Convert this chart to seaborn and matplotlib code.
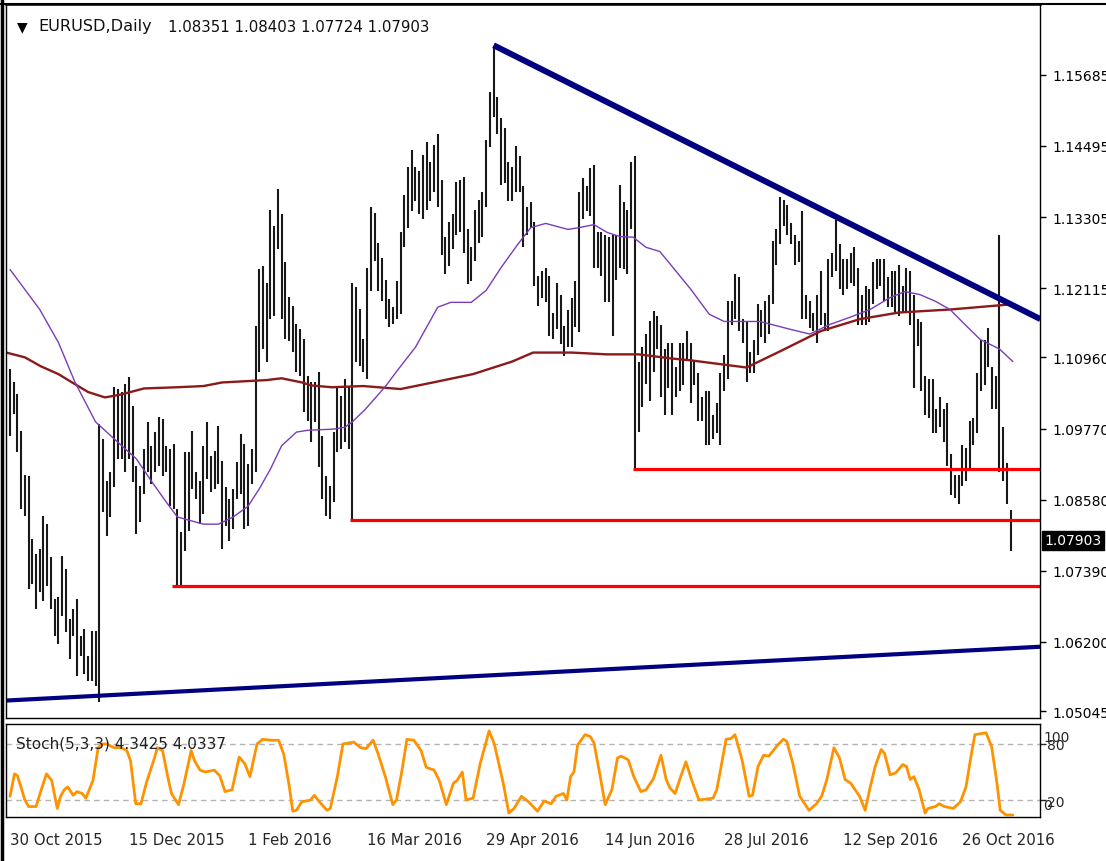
import numpy as np
import pandas as pd
import matplotlib
matplotlib.use("Agg")
import matplotlib.pyplot as plt
import matplotlib.transforms as mtrans
from matplotlib.lines import Line2D
import seaborn as sns

sns.set_style("white")
plt.rcParams["font.family"] = ["DejaVu Sans"]

# ---------------- data ----------------
symbol = "EURUSD,Daily"
last_ohlc = ["1.08351", "1.08403", "1.07724", "1.07903"]
last_close = 1.07903

highs = [
    1.1076, 1.1054, 1.1034, 1.0973, 1.0899, 1.0897, 1.0792, 1.0767, 1.0776, 1.0831,
    1.0817, 1.0762, 1.0692, 1.0695, 1.0764, 1.0742, 1.0659, 1.0675, 1.0692, 1.0630,
    1.0642, 1.0597, 1.0639, 1.0639, 1.0984, 1.0959, 1.0889, 1.0904, 1.1046, 1.1043,
    1.1038, 1.1051, 1.1063, 1.1014, 1.0914, 1.0880, 1.0943, 1.0988, 1.0948, 1.0971,
    1.0996, 1.0993, 1.0948, 1.0943, 1.0951, 1.0842, 1.0804, 1.0938, 1.0938, 1.0973,
    1.0904, 1.0889, 1.0948, 1.0988, 1.0931, 1.0939, 1.0981, 1.0923, 1.0879, 1.0859,
    1.0876, 1.0921, 1.0968, 1.0951, 1.0918, 1.0943, 1.1148, 1.1243, 1.1248, 1.1221,
    1.1343, 1.1315, 1.1378, 1.1335, 1.1255, 1.1197, 1.1182, 1.1152, 1.1143, 1.1127,
    1.1064, 1.1054, 1.1054, 1.1071, 1.0964, 1.0897, 1.0881, 1.0971, 1.1046, 1.1031,
    1.1059, 1.1048, 1.1221, 1.1213, 1.1177, 1.1127, 1.1246, 1.1347, 1.1338, 1.1288,
    1.1263, 1.1226, 1.1193, 1.1180, 1.1223, 1.1306, 1.1368, 1.1415, 1.1443, 1.1415,
    1.1407, 1.1435, 1.1457, 1.1423, 1.1452, 1.1469, 1.1393, 1.1298, 1.1322, 1.1335,
    1.1390, 1.1393, 1.1398, 1.1310, 1.1281, 1.1343, 1.1360, 1.1372, 1.1460, 1.1540,
    1.1616, 1.1532, 1.1497, 1.1480, 1.1422, 1.1415, 1.1449, 1.1432, 1.1382, 1.1347,
    1.1355, 1.1322, 1.1232, 1.1240, 1.1246, 1.1232, 1.1171, 1.1221, 1.1201, 1.1148,
    1.1176, 1.1196, 1.1223, 1.1373, 1.1396, 1.1382, 1.1413, 1.1418, 1.1306, 1.1306,
    1.1301, 1.1298, 1.1301, 1.1301, 1.1385, 1.1355, 1.1343, 1.1423, 1.1432, 1.1088,
    1.1113, 1.1135, 1.1156, 1.1173, 1.1165, 1.1150, 1.1110, 1.1120, 1.1120, 1.1080,
    1.1120, 1.1120, 1.1140, 1.1120, 1.1090, 1.1070, 1.1030, 1.1040, 1.1040, 1.1000,
    1.1020, 1.1070, 1.1100, 1.1190, 1.1190, 1.1235, 1.1230, 1.1160, 1.1155, 1.1105,
    1.1125, 1.1185, 1.1175, 1.1190, 1.1200, 1.1290, 1.1310, 1.1365, 1.1360, 1.1350,
    1.1320, 1.1300, 1.1290, 1.1340, 1.1200, 1.1190, 1.1170, 1.1200, 1.1240, 1.1170,
    1.1260, 1.1270, 1.1325, 1.1285, 1.1260, 1.1260, 1.1270, 1.1280, 1.1245, 1.1200,
    1.1215, 1.1210, 1.1255, 1.1260, 1.1260, 1.1260, 1.1230, 1.1240, 1.1240, 1.1250,
    1.1215, 1.1245, 1.1240, 1.1200, 1.1160, 1.1155, 1.1065, 1.1060, 1.1060, 1.1010,
    1.1030, 1.1010, 1.1020, 1.0935, 1.0900, 1.0900, 1.0950, 1.0945, 1.0990, 1.0995,
    1.1070, 1.1125, 1.1125, 1.1145, 1.1080, 1.1065, 1.1300, 1.0980, 1.0920, 1.08403,
]
lows = [
    1.0964, 1.1001, 1.0937, 1.0842, 1.0831, 1.0709, 1.0717, 1.0675, 1.0704, 1.0689,
    1.0714, 1.0675, 1.0630, 1.0617, 1.0663, 1.0637, 1.0592, 1.0630, 1.0563, 1.0597,
    1.0567, 1.0555, 1.0555, 1.0547, 1.0520, 1.0837, 1.0797, 1.0829, 1.0879, 1.0926,
    1.0926, 1.0904, 1.0926, 1.0887, 1.0801, 1.0820, 1.0868, 1.0904, 1.0884, 1.0904,
    1.0914, 1.0897, 1.0904, 1.0847, 1.0842, 1.0714, 1.0714, 1.0772, 1.0806, 1.0876,
    1.0859, 1.0817, 1.0834, 1.0892, 1.0871, 1.0876, 1.0884, 1.0776, 1.0814, 1.0789,
    1.0809, 1.0859, 1.0868, 1.0809, 1.0814, 1.0884, 1.0905, 1.1071, 1.1110, 1.1088,
    1.1160, 1.1165, 1.1277, 1.1160, 1.1127, 1.1124, 1.1105, 1.1071, 1.1064, 1.1004,
    1.0989, 1.0954, 1.0988, 1.0912, 1.0859, 1.0831, 1.0826, 1.0854, 1.0938, 1.0943,
    1.0954, 1.0943, 1.0822, 1.1088, 1.1081, 1.1071, 1.1059, 1.1207, 1.1257, 1.1207,
    1.1190, 1.1160, 1.1146, 1.1151, 1.1160, 1.1168, 1.1281, 1.1313, 1.1340, 1.1357,
    1.1335, 1.1327, 1.1343, 1.1357, 1.1373, 1.1347, 1.1268, 1.1235, 1.1248, 1.1277,
    1.1301, 1.1306, 1.1271, 1.1218, 1.1223, 1.1257, 1.1288, 1.1298, 1.1347, 1.1447,
    1.1498, 1.1469, 1.1385, 1.1388, 1.1357, 1.1357, 1.1373, 1.1372, 1.1281, 1.1301,
    1.1313, 1.1215, 1.1182, 1.1196, 1.1188, 1.1131, 1.1126, 1.1143, 1.1118, 1.1098,
    1.1113, 1.1113, 1.1146, 1.1138, 1.1327, 1.1340, 1.1332, 1.1246, 1.1246, 1.1232,
    1.1188, 1.1188, 1.1131, 1.1226, 1.1246, 1.1243, 1.1235, 1.1310, 1.0906, 1.0971,
    1.1013, 1.1051, 1.1023, 1.1071, 1.1110, 1.1030, 1.1000, 1.1045, 1.1000, 1.1030,
    1.1040, 1.1050, 1.1090, 1.1020, 1.1050, 1.0990, 1.0990, 1.0950, 1.0950, 1.0960,
    1.0970, 1.0950, 1.1040, 1.1060, 1.1150, 1.1160, 1.1140, 1.1120, 1.1055, 1.1070,
    1.1070, 1.1100, 1.1130, 1.1120, 1.1135, 1.1185, 1.1250, 1.1285, 1.1315, 1.1300,
    1.1285, 1.1250, 1.1255, 1.1160, 1.1160, 1.1145, 1.1140, 1.1120, 1.1150, 1.1140,
    1.1140, 1.1230, 1.1240, 1.1210, 1.1200, 1.1210, 1.1220, 1.1215, 1.1150, 1.1150,
    1.1150, 1.1155, 1.1185, 1.1210, 1.1215, 1.1190, 1.1180, 1.1180, 1.1170, 1.1165,
    1.1170, 1.1170, 1.1150, 1.1045, 1.1115, 1.1040, 1.1000, 1.0995, 1.0970, 1.0970,
    1.0980, 1.0955, 1.0915, 1.0865, 1.0860, 1.0850, 1.0880, 1.0890, 1.0910, 1.0950,
    1.0970, 1.1040, 1.1050, 1.1080, 1.1010, 1.1010, 1.0905, 1.0890, 1.0850, 1.07724,
]

# fast moving average (purple), read as (bar, price)
ma_fast_bar = [0, 8, 13, 17.5, 23, 29, 34, 38, 42, 45, 52, 56, 60, 64, 67, 70, 73, 77,
               80, 87, 90, 92, 95.5, 101, 104, 109, 115, 118.5, 124, 128, 132, 136.5,
               140, 144, 150, 153, 157, 160.5, 164, 167.5, 171, 174.7, 178, 183, 188,
               192, 201.6, 209.7, 215, 220.4, 225.8, 231.2, 236.6, 240.6, 244.6,
               248.7, 252.7, 256.7, 260.8, 266, 269.6]
ma_fast_val = [1.1243, 1.1176, 1.1121, 1.1054, 1.0988, 1.0954, 1.0926, 1.0889, 1.0854,
               1.0829, 1.0817, 1.0817, 1.0829, 1.0847, 1.0876, 1.0909, 1.0948, 1.0971,
               1.0974, 1.0976, 1.0979, 1.0988, 1.1009, 1.1048, 1.1073, 1.1113, 1.1180,
               1.1188, 1.1188, 1.1208, 1.1246, 1.1285, 1.1313, 1.1320, 1.1310, 1.1313,
               1.1318, 1.1305, 1.1298, 1.1297, 1.1280, 1.1273, 1.1248, 1.1210, 1.1168,
               1.1156, 1.1156, 1.1143, 1.1135, 1.1151, 1.1163, 1.1176, 1.1196, 1.1206,
               1.1201, 1.1190, 1.1176, 1.1151, 1.1126, 1.1110, 1.1089]

# slow moving average (brown)
ma_slow_bar = [-1, 4, 8.3, 13, 17.5, 21, 25.5, 30, 33, 36, 45, 52, 57, 63, 69, 73, 78.5,
               81, 86.5, 95, 105, 113.7, 124.5, 130, 135, 140.6, 151, 160.5, 169, 178,
               183, 198, 207, 218, 228.5, 239, 252.7, 266, 269.6]
ma_slow_val = [1.1104, 1.1096, 1.1081, 1.1068, 1.1051, 1.1038, 1.1029, 1.1034, 1.1039,
               1.1044, 1.1046, 1.1048, 1.1054, 1.1056, 1.1058, 1.1061, 1.1054, 1.1049,
               1.1046, 1.1048, 1.1043, 1.1054, 1.1068, 1.1079, 1.1089, 1.1104, 1.1104,
               1.1101, 1.1101, 1.1094, 1.1091, 1.1079, 1.1106, 1.1140, 1.1160, 1.1171,
               1.1176, 1.1183, 1.1185]

# stochastic %K (orange), read as (bar, value)
stoch_bar = [0, 1.2, 2, 4, 5, 7, 8.4, 9.8, 11.2, 12.7, 13.6, 14.6, 15.5, 17, 18, 19.4,
             20.4, 22.3, 23.7, 24.7, 26, 28, 29.9, 31.4, 32.4, 33.8, 35.2, 36.7, 38.6,
             39.6, 41, 42.4, 43.4, 45.3, 46.8, 48.7, 49.6, 51.1, 52.5, 54.9, 56.4, 57.8,
             59.7, 61.6, 63.1, 64.5, 66.4, 67.9, 70.3, 72.2, 73.6, 75.1, 76, 77, 78.4,
             80.8, 81.8, 83.2, 85.2, 86.1, 88, 89.5, 92.4, 94.3, 95.7, 97.6, 99, 100.9,
             102.9, 103.9, 105.3, 106.7, 108.6, 110.5, 111.9, 114, 115.4, 117.3, 119.2,
             120.2, 121.6, 122.6, 124.5, 126.4, 128.8, 130.2, 132.6, 134.1, 135.5,
             137.5, 139.4, 141.8, 143.6, 145.5, 146.8, 148.8, 149.7, 150.7, 151.6,
             152.6, 154.6, 156, 157, 158.5, 160, 161.8, 163.3, 164.3, 166.2, 167.7,
             169.6, 171, 173, 175, 176.4, 177.4, 178.8, 180.3, 181.7, 183.2, 185.2,
             189, 190, 190.9, 192.5, 193.9, 194.9, 196.8, 198.7, 199.6, 201.1, 202.6,
             204, 206.4, 207.9, 208.8, 210.4, 212.3, 214.8, 216.8, 218.2, 219.6, 221.5,
             223, 224.5, 226, 228.4, 229.9, 231.2, 232.6, 234.2, 235.1, 236.6, 238.1,
             240, 241, 242, 243, 244.4, 246, 246.8, 248.8, 249.8, 251.2, 253.6, 255.5,
             257, 258.4, 259.4, 262.4, 263.9, 265.2, 266.2, 267.7, 269.6]
stoch_val = [24, 48, 46, 20, 13, 13, 31, 48, 41, 11, 24, 31, 34, 25, 29, 27, 22, 41, 76,
             80, 80, 76, 76, 73, 62, 16, 16, 39, 62, 76, 73, 45, 27, 15, 38, 73, 62, 52,
             50, 52, 46, 29, 31, 66, 59, 45, 80, 85, 84, 84, 69, 34, 8, 9, 18, 20, 25, 18,
             9, 11, 45, 80, 82, 76, 75, 84, 69, 45, 15, 20, 50, 85, 84, 73, 55, 52, 41,
             15, 38, 41, 50, 20, 22, 59, 94, 80, 38, 6, 11, 24, 18, 8, 19, 16, 24, 27, 20,
             45, 50, 79, 90, 88, 81, 49, 15, 31, 65, 67, 63, 45, 29, 31, 43, 68, 42, 33,
             27, 45, 61, 42, 20, 22, 31, 50, 85, 86, 90, 63, 24, 25, 56, 68, 67, 79, 85,
             83, 60, 24, 9, 16, 24, 42, 76, 65, 42, 38, 24, 9, 33, 56, 74, 70, 47, 49, 58,
             56, 42, 45, 31, 6, 11, 13, 16, 13, 11, 18, 34, 68, 90, 92, 77, 42, 9, 4, 4]

price_ticks = [1.15685, 1.14495, 1.13305, 1.12115, 1.10960, 1.09770, 1.08580,
               1.07390, 1.06200, 1.05045]
date_tick_bars = [0, 32, 64, 96, 128, 160, 192, 224, 256]
date_labels = ["30 Oct 2015", "15 Dec 2015", "1 Feb 2016", "16 Mar 2016",
               "29 Apr 2016", "14 Jun 2016", "28 Jul 2016", "12 Sep 2016",
               "26 Oct 2016"]

# drawn objects (trend lines and support levels)
upper_trend_bar = [130, 277]
upper_trend_val = [1.1618, 1.1160]
lower_trend_bar = [-1, 277]
lower_trend_val = [1.0522, 1.0612]
support_start_bar = [167.5, 91.5, 43.5]
support_level = [1.0909, 1.0824, 1.0714]

stoch_levels = [80, 20]
stoch_title = "Stoch(5,3,3) 4.3425 4.0337"

# ---------------- figure ----------------
W, H = 1106, 862
fig = plt.figure(figsize=(W / 100, H / 100), dpi=100)


def box(l, t, r, b):
    return [l / W, 1 - b / H, (r - l) / W, (b - t) / H]


ax = fig.add_axes(box(6, 5, 1040, 719))
ax2 = fig.add_axes(box(6, 725, 1040, 818))

bars = pd.DataFrame({"bar": np.arange(len(highs)), "high": highs, "low": lows})

ax.vlines(bars["bar"], bars["low"], bars["high"], color="#181818", linewidth=1.5)

sns.lineplot(x=ma_slow_bar, y=ma_slow_val, ax=ax, color="#8B1A1A", linewidth=1.7,
             estimator=None, sort=False)
sns.lineplot(x=ma_fast_bar, y=ma_fast_val, ax=ax, color="#7A3CB8", linewidth=1.0,
             estimator=None, sort=False)

ax.plot(upper_trend_bar, upper_trend_val, color="#000080", linewidth=4.3,
        solid_capstyle="butt")
ax.plot(lower_trend_bar, lower_trend_val, color="#000080", linewidth=3.0,
        solid_capstyle="butt")
ax.hlines(support_level, support_start_bar, 277, color="#FF0000", linewidth=2.3)

x_lo, x_hi = -1.08, 276.9
ax.set_xlim(x_lo, x_hi)
ax.set_ylim(1.04928, 1.16870)
ax.set_xticks([])
ax.yaxis.tick_right()
ax.set_yticks(price_ticks)
ax.set_yticklabels([f"{v:.5f}" for v in price_ticks])
ax.tick_params(axis="y", direction="out", length=4, width=1, pad=5, labelsize=10,
               colors="black")
for s in ax.spines.values():
    s.set_color("black")
    s.set_linewidth(1.0)
ax.spines["top"].set_linewidth(1.8)

# current price marker
trans = mtrans.blended_transform_factory(ax.transAxes, ax.transData)
ax.text(1.004, last_close, f"{last_close:.5f}", transform=trans, ha="left",
        va="center", fontsize=10, color="white", clip_on=False,
        bbox=dict(boxstyle="square,pad=0.18", facecolor="black", edgecolor="black"))

# header
fig.text(17 / W, 1 - 27 / H, "\u25bc", fontsize=10, color="black", va="center")
fig.text(38 / W, 1 - 27 / H, symbol, fontsize=11.6, color="#101010", va="center")
fig.text(168 / W, 1 - 27 / H, " ".join(last_ohlc), fontsize=10.8, color="#101010",
         va="center")

# stochastic panel
for lv in stoch_levels:
    ax2.axhline(lv, color="#B4B4B4", linewidth=1.0, linestyle=(0, (4, 3)))
sns.lineplot(x=stoch_bar, y=stoch_val, ax=ax2, color="#FF9200", linewidth=2.0,
             estimator=None, sort=False)
ax2.set_xlim(x_lo, x_hi)
ax2.set_ylim(1.8, 101.4)
ax2.yaxis.tick_right()
ax2.set_yticks(stoch_levels)
ax2.set_yticklabels([str(v) for v in stoch_levels])
ax2.tick_params(axis="y", direction="out", length=4, width=1, pad=1, labelsize=10)
t2 = mtrans.blended_transform_factory(ax2.transAxes, ax2.transData)
ax2.text(1.0035, 87, "100", transform=t2, fontsize=10, ha="left", va="center",
         clip_on=False)
ax2.text(1.0035, 15, "0", transform=t2, fontsize=10, ha="left", va="center",
         clip_on=False)
ax2.set_xticks(date_tick_bars)
ax2.set_xticklabels(date_labels, ha="left")
ax2.tick_params(axis="x", direction="out", length=5, width=1, pad=6, labelsize=10.8)
ax2.text(10 / 1034, 0.8, stoch_title, transform=ax2.transAxes, fontsize=11,
         color="#202020", va="center", ha="left")
ax2.set_xlabel("")
ax2.set_ylabel("")
ax.set_xlabel("")
ax.set_ylabel("")
for s in ax2.spines.values():
    s.set_color("black")
    s.set_linewidth(1.0)

# outer frame lines
fig.add_artist(Line2D([1.5 / W, 1.5 / W], [0, 1], transform=fig.transFigure,
                      color="black", linewidth=2.5))
fig.add_artist(Line2D([0, 1], [1 - 4.5 / H, 1 - 4.5 / H], transform=fig.transFigure,
                      color="black", linewidth=1.5))

fig.savefig("out.png", dpi=100)
